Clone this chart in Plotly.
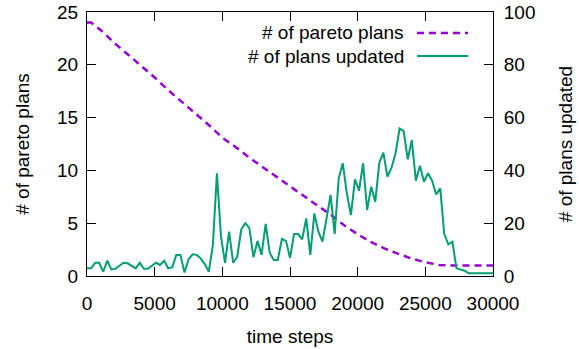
import plotly.graph_objects as go

# ---- data ----
pareto_steps = [0, 300, 1000, 2000, 3000, 4000, 5000, 6000, 7000, 8000, 9000, 10000,
                11000, 12000, 13000, 14000, 15000, 16000, 17000, 18000, 19000, 20000,
                21000, 22000, 23000, 24000, 25000, 26000, 27000, 28000, 29000, 30000]
pareto_plans = [24.0, 24.0, 23.3, 22.1, 21.0, 19.9, 18.8, 17.6, 16.5, 15.4, 14.3, 13.1,
                12.2, 11.2, 10.3, 9.4, 8.5, 7.6, 6.7, 5.8, 4.8, 3.95,
                3.2, 2.6, 2.1, 1.65, 1.3, 1.05, 1.0, 1.0, 1.0, 1.0]

updated_steps = list(range(0, 30001, 300))
plans_updated = [2.9, 2.9, 5.0, 5.0, 1.6, 5.8, 2.5, 2.7, 3.9, 5.0,
                 4.8, 3.9, 2.9, 5.0, 2.7, 2.7, 3.8, 5.0, 4.2, 5.8,
                 2.9, 3.3, 8.0, 8.0, 1.3, 6.3, 8.2, 8.0, 6.7, 4.5,
                 1.6, 11.7, 38.9, 14.9, 5.0, 16.8, 5.0, 7.3, 17.7, 20.0,
                 18.1, 7.1, 13.3, 8.0, 19.7, 8.8, 6.1, 6.1, 14.0, 13.3,
                 6.9, 15.9, 15.9, 13.9, 21.8, 8.0, 23.7, 16.8, 13.0, 22.5,
                 30.7, 15.9, 37.0, 42.7, 31.3, 23.1, 36.6, 32.3, 42.7, 25.0,
                 33.8, 28.1, 42.9, 46.7, 37.6, 41.0, 46.5, 55.9, 54.9, 44.2,
                 51.5, 36.1, 41.8, 35.7, 38.9, 36.1, 30.9, 33.2, 15.9, 12.0,
                 13.0, 2.9, 2.3, 2.0, 1.0, 1.0, 1.0, 1.0, 1.0, 1.0, 1.0]

x_ticks = [0, 5000, 10000, 15000, 20000, 25000, 30000]
y_ticks = [0, 5, 10, 15, 20, 25]
y2_ticks = [0, 20, 40, 60, 80, 100]

series_names = ["# of pareto plans", "# of plans updated"]
PURPLE = "#9400D3"
GREEN = "#009E73"
FONT = "Liberation Sans"
FS = 19

fig = go.Figure()
fig.add_trace(go.Scatter(x=pareto_steps, y=pareto_plans, mode="lines", name=series_names[0],
                         line=dict(color=PURPLE, width=2.5, dash="7px,5px"), yaxis="y",
                         showlegend=False))
fig.add_trace(go.Scatter(x=updated_steps, y=plans_updated, mode="lines", name=series_names[1],
                         line=dict(color=GREEN, width=2), yaxis="y2", showlegend=False))

# gnuplot-style legend: text then sample, top right inside the plot
legend_rows = [(0.9205, PURPLE, "7px,5px", 2.5), (0.8333, GREEN, "solid", 2)]
for name, (yy, col, dsh, w) in zip(series_names, legend_rows):
    fig.add_annotation(x=0.7857, y=yy, xref="paper", yref="paper", text=name,
                       showarrow=False, xanchor="right", yanchor="middle",
                       font=dict(family=FONT, size=FS, color="black"))
    fig.add_shape(type="line", xref="paper", yref="paper", x0=0.8128, x1=0.9384,
                  y0=yy, y1=yy, line=dict(color=col, width=w, dash=dsh))

axis_common = dict(showgrid=False, zeroline=False, ticks="inside", ticklen=9,
                   tickcolor="black", tickwidth=1, showline=True, linecolor="black",
                   linewidth=1, automargin=False,
                   tickfont=dict(family=FONT, size=FS, color="black"))

fig.update_layout(
    width=579, height=349,
    margin=dict(l=87, r=86, t=12, b=73),
    paper_bgcolor="white", plot_bgcolor="white",
    font=dict(family=FONT, size=FS, color="black"),
    xaxis=dict(range=[0, 30000], tickvals=x_ticks, ticktext=[str(v) for v in x_ticks],
               mirror="ticks", ticklabelstandoff=10,
               title=dict(text="time steps", standoff=16, font=dict(family=FONT, size=FS)),
               **axis_common),
    yaxis=dict(range=[0, 25], tickvals=y_ticks, mirror=False, ticklabelstandoff=4,
               title=dict(text="# of pareto plans", standoff=22, font=dict(family=FONT, size=FS)),
               **axis_common),
    yaxis2=dict(range=[0, 100], tickvals=y2_ticks, overlaying="y", side="right",
                ticklabelstandoff=6,
                title=dict(text="# of plans updated", standoff=24, font=dict(family=FONT, size=FS)),
                **axis_common),
)

# remove the browser's default 8px body margin so the figure sits at the window origin
fig.write_html("out.html", config={"displayModeBar": False},
               post_script="document.body.style.margin='0';")
